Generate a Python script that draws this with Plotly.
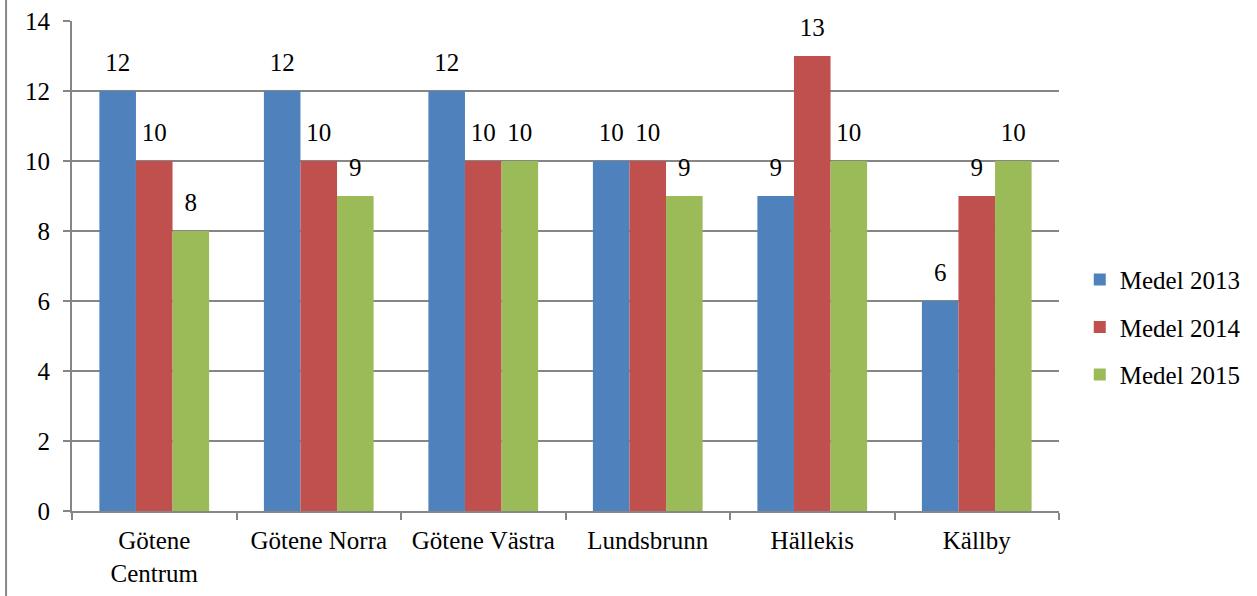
import plotly.graph_objects as go

# Average values per area and year
categories = ["Götene<br>Centrum", "Götene Norra", "Götene Västra", "Lundsbrunn", "Hällekis", "Källby"]
medel_2013 = [12, 12, 12, 10, 9, 6]
medel_2014 = [10, 10, 10, 10, 13, 9]
medel_2015 = [8, 9, 10, 9, 10, 10]

series = [
    ("Medel 2013", medel_2013, "#4F81BD"),
    ("Medel 2014", medel_2014, "#C0504D"),
    ("Medel 2015", medel_2015, "#9BBB59"),
]

FONT = "Liberation Serif"
GRID = "#868686"
GAP = 0.333

fig = go.Figure()
for name, values, color in series:
    fig.add_trace(go.Bar(
        name=name,
        x=categories,
        y=values,
        offsetgroup=name,
        marker=dict(color=color, line=dict(width=0)),
        legendgroup=name,
    ))

# Value labels: invisible markers on each bar top push the text upward
for name, values, color in series:
    fig.add_trace(go.Scatter(
        x=categories,
        y=values,
        offsetgroup=name,
        mode="markers+text",
        text=[str(v) for v in values],
        textposition="top center",
        textfont=dict(family=FONT, size=25, color="black"),
        marker=dict(size=20, opacity=0, color=color),
        showlegend=False,
        hoverinfo="skip",
        cliponaxis=False,
    ))

fig.update_layout(
    width=1257,
    height=596,
    barmode="group",
    bargap=GAP,
    bargroupgap=0,
    scattermode="group",
    scattergap=GAP,
    plot_bgcolor="white",
    paper_bgcolor="white",
    margin=dict(l=72, r=197, t=21, b=85),
    font=dict(family=FONT, size=24, color="black"),
    showlegend=True,
    legend=dict(
        x=1.02, y=0.375, xanchor="left", yanchor="middle",
        font=dict(family=FONT, size=25, color="black"),
        tracegroupgap=12,
        itemwidth=30,
        bgcolor="rgba(0,0,0,0)",
    ),
    xaxis=dict(
        showline=True, linecolor=GRID, linewidth=2,
        ticks="outside", ticklen=7, tickcolor=GRID, tickwidth=2,
        tickson="boundaries",
        tickfont=dict(family=FONT, size=25, color="black"),
        ticklabelstandoff=6,
        showgrid=False,
        automargin=False,
    ),
    yaxis=dict(
        range=[0, 14],
        dtick=2,
        showline=True, linecolor=GRID, linewidth=2,
        ticks="outside", ticklen=7, tickcolor=GRID, tickwidth=2,
        showgrid=True, gridcolor=GRID, gridwidth=2,
        zeroline=False,
        tickfont=dict(family=FONT, size=25, color="black"),
        ticklabelstandoff=8,
        automargin=False,
    ),
    shapes=[
        # outer frame line along the left edge
        dict(type="line", xref="paper", yref="paper",
             x0=-66 / 988, x1=-66 / 988, y0=-85 / 490, y1=(490 + 21) / 490,
             line=dict(color=GRID, width=2)),
    ],
)

fig.write_html("out.html")
